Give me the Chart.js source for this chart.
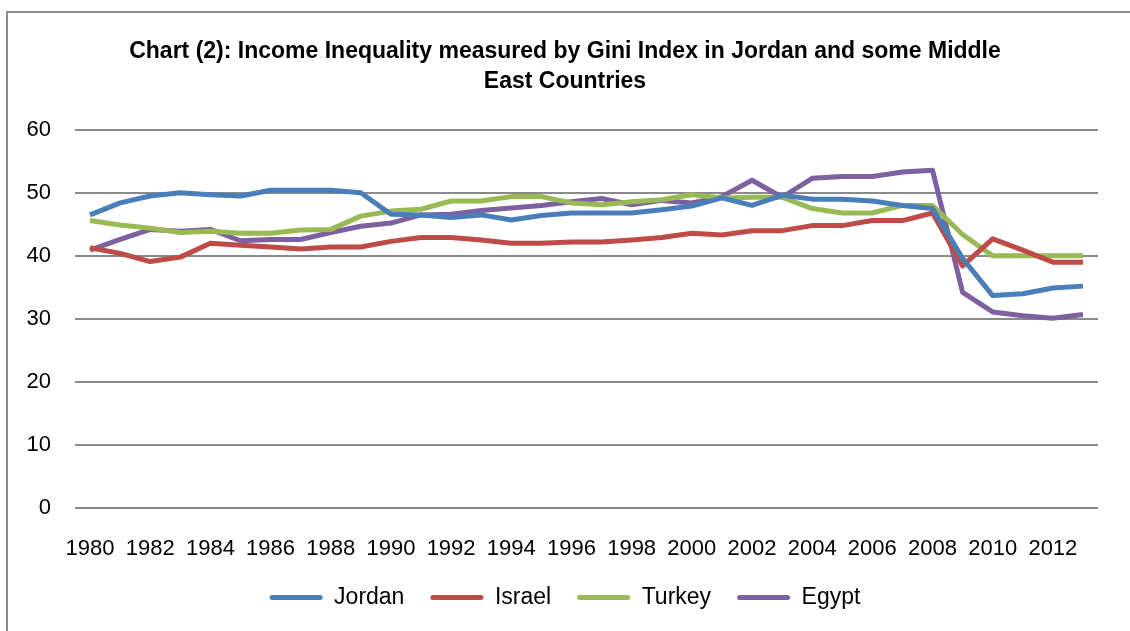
<!DOCTYPE html>
<html>
<head>
<meta charset="utf-8">
<script src="https://cdn.jsdelivr.net/npm/chart.js@4.4.1/dist/chart.umd.min.js"></script>
<style>
    html, body { margin: 0; padding: 0; background: #fff; overflow: hidden; }
    #wrap { position: relative; width: 1130px; height: 631px; }
    #frame { position: absolute; left: 6px; top: 11px; width: 1200px; height: 700px; border: 2px solid #8c8c8c; box-sizing: border-box; }
    canvas { position: absolute; left: 0; top: 0; }
</style>
</head>
<body>
<div id="wrap">
    <div id="frame"></div>
    <canvas id="giniChart" width="1130" height="631"></canvas>
</div>
<script>
const years = ['1980', '1981', '1982', '1983', '1984', '1985', '1986', '1987', '1988', '1989',
    '1990', '1991', '1992', '1993', '1994', '1995', '1996', '1997', '1998', '1999',
    '2000', '2001', '2002', '2003', '2004', '2005', '2006', '2007', '2008', '2009',
    '2010', '2011', '2012', '2013'];

const jordan = [46.5, 48.4, 49.5, 50.0, 49.7, 49.5, 50.4, 50.4, 50.4, 50.0,
    46.6, 46.5, 46.1, 46.5, 45.7, 46.4, 46.8, 46.8, 46.8, 47.3,
    47.9, 49.2, 48.0, 49.6, 49.0, 49.0, 48.7, 48.0, 47.5, 39.6,
    33.7, 34.0, 34.9, 35.2];
const israel = [41.3, 40.4, 39.1, 39.8, 42.0, 41.7, 41.4, 41.1, 41.4, 41.4,
    42.3, 42.9, 42.9, 42.5, 42.0, 42.0, 42.2, 42.2, 42.5, 42.9,
    43.6, 43.3, 44.0, 44.0, 44.8, 44.8, 45.6, 45.6, 46.8, 38.4,
    42.7, 40.9, 39.0, 39.0];
const turkey = [45.6, 44.9, 44.4, 43.7, 43.9, 43.6, 43.6, 44.1, 44.2, 46.3,
    47.1, 47.4, 48.7, 48.7, 49.4, 49.4, 48.4, 48.1, 48.6, 48.9,
    49.7, 49.2, 49.3, 49.3, 47.5, 46.8, 46.8, 48.0, 48.0, 43.4,
    40.0, 40.0, 40.0, 40.0];
const egypt = [40.9, 42.6, 44.2, 43.9, 44.2, 42.4, 42.6, 42.6, 43.7, 44.7,
    45.2, 46.5, 46.6, 47.2, 47.6, 48.0, 48.6, 49.1, 48.1, 48.8,
    48.4, 49.4, 52.0, 49.3, 52.3, 52.6, 52.6, 53.3, 53.6, 34.2,
    31.1, 30.5, 30.1, 30.7];

const seriesNames = ['Jordan', 'Israel', 'Turkey', 'Egypt'];
const seriesColors = ['#4a7ebb', '#be4b48', '#98b954', '#7d60a0'];
const yTicks = [0, 10, 20, 30, 40, 50, 60];

const chartTitle = ['Chart (2): Income Inequality measured by Gini Index in Jordan and some Middle', 'East Countries'];

const fontFamily = '"Liberation Sans", Arial, sans-serif';

function makeDataset(i, values) {
    return {
        label: seriesNames[i],
        data: values,
        borderColor: seriesColors[i],
        backgroundColor: seriesColors[i],
        borderWidth: 5,
        pointRadius: 0,
        tension: 0,
        borderJoinStyle: 'round'
    };
}

const ctx = document.getElementById('giniChart').getContext('2d');
new Chart(ctx, {
    type: 'line',
    data: {
        labels: years,
        datasets: [
            makeDataset(0, jordan),
            makeDataset(1, israel),
            makeDataset(2, turkey),
            makeDataset(3, egypt)
        ]
    },
    options: {
        responsive: false,
        animation: false,
        layout: { padding: { left: 0, right: 0, top: 0, bottom: 12 } },
        plugins: {
            title: {
                display: true,
                text: chartTitle,
                color: '#000',
                font: { family: fontFamily, size: 23, weight: 'bold', lineHeight: 1.3 },
                padding: { top: 37, bottom: 33 }
            },
            legend: {
                position: 'bottom',
                labels: {
                    color: '#000',
                    font: { family: fontFamily, size: 23 },
                    boxWidth: 53,
                    boxHeight: 5,
                    padding: 26,
                    generateLabels: chart => Chart.defaults.plugins.legend.labels.generateLabels(chart)
                        .map(item => Object.assign(item, { lineWidth: 0, borderRadius: 2.5 }))
                }
            },
            tooltip: { enabled: false }
        },
        scales: {
            x: {
                offset: true,
                grid: { display: false, drawTicks: false },
                border: { display: false },
                ticks: {
                    autoSkip: false,
                    maxRotation: 0,
                    color: '#000',
                    padding: 28,
                    font: { family: fontFamily, size: 22 },
                    callback: (val, i) => (i % 2 === 0 ? years[i] : '')
                },
                afterFit: scale => { scale.height = 52; }
            },
            y: {
                min: 0,
                max: 60,
                grid: { color: '#8a8a8a', lineWidth: 2, drawTicks: false },
                border: { display: false },
                ticks: {
                    stepSize: 10,
                    color: '#000',
                    padding: 24,
                    font: { family: fontFamily, size: 22 },
                    callback: val => (yTicks.includes(val) ? val : '')
                },
                afterFit: scale => { scale.width = 75; }
            },
            yRight: {
                position: 'right',
                grid: { display: false, drawTicks: false },
                border: { display: false },
                ticks: { display: false },
                afterFit: scale => { scale.width = 32; }
            }
        }
    }
});
</script>
</body>
</html>
